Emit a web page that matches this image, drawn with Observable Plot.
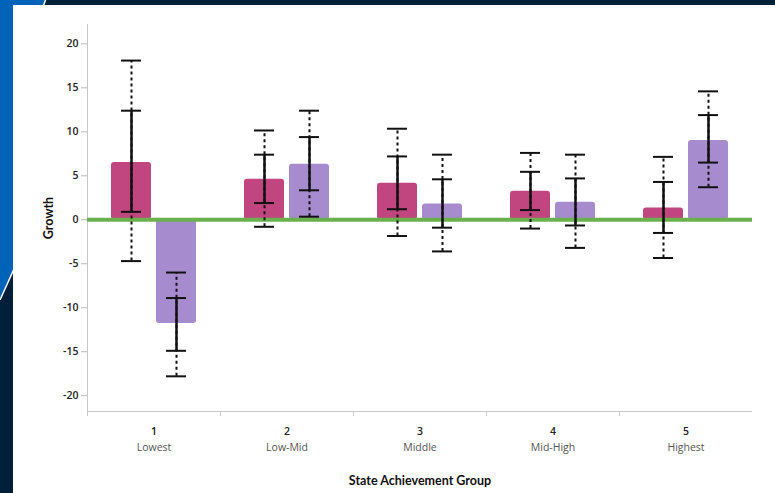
<!DOCTYPE html>
<html>
<head>
<meta charset="utf-8">
<script src="https://cdn.jsdelivr.net/npm/d3@7"></script>
<script src="https://cdn.jsdelivr.net/npm/@observablehq/plot@0.6"></script>
<style>
  html, body { margin: 0; padding: 0; }
  body { width: 775px; height: 493px; overflow: hidden; background: #00203a; }
  #wrap { position: relative; width: 775px; height: 493px; }
  #deco { position: absolute; left: 0; top: 0; }
  #panel { position: absolute; left: 13px; top: 5px; width: 762px; height: 488px; background: #ffffff; }
  #chart { position: absolute; left: 0; top: 0; }
</style>
</head>
<body>
<div id="wrap">
  <svg id="deco" width="775" height="493">
    <polygon points="0,0 45,0 13,120 13,271 0,299" fill="#0062b8"></polygon>
    <line x1="45.5" y1="0" x2="41" y2="12" stroke="#ffffff" stroke-width="1.5"></line>
    <line x1="13.5" y1="270" x2="0" y2="300" stroke="#ffffff" stroke-width="1.5"></line>
  </svg>
  <div id="panel"></div>
  <div id="chart"></div>
</div>
<script>
// ---- data ----
const groups = ["1", "2", "3", "4", "5"];
const groupNames = ["Lowest", "Low-Mid", "Middle", "Mid-High", "Highest"];
const series = ["Series 1", "Series 2"];
const seriesColors = ["#c1457f", "#a68bcf"];

const values1   = [6.5, 4.6, 4.15, 3.25, 1.35];
const innerLo1  = [0.9, 1.9, 1.2, 1.1, -1.5];
const innerHi1  = [12.4, 7.4, 7.2, 5.45, 4.3];
const outerLo1  = [-4.7, -0.8, -1.85, -1.0, -4.35];
const outerHi1  = [18.1, 10.15, 10.35, 7.6, 7.15];

const values2   = [-11.8, 6.3, 1.8, 2.0, 9.0];
const innerLo2  = [-14.9, 3.35, -0.9, -0.65, 6.5];
const innerHi2  = [-8.9, 9.4, 4.6, 4.7, 11.9];
const outerLo2  = [-17.8, 0.35, -3.6, -3.2, 3.7];
const outerHi2  = [-6.0, 12.4, 7.4, 7.4, 14.6];

const yTicks = [-20, -15, -10, -5, 0, 5, 10, 15, 20];
const yDomain = [-21.8, 22.2];
const xTitle = "State Achievement Group";
const yTitle = "Growth";

// ---- table ----
const rows = [];
groups.forEach((g, i) => {
  rows.push({group: g, series: series[0], value: values1[i], innerLo: innerLo1[i], innerHi: innerHi1[i], outerLo: outerLo1[i], outerHi: outerHi1[i]});
  rows.push({group: g, series: series[1], value: values2[i], innerLo: innerLo2[i], innerHi: innerHi2[i], outerLo: outerLo2[i], outerHi: outerHi2[i]});
});

const W = 775, H = 493, mL = 87, mR = 23, mT = 24, mB = 82;
const halfBand = (W - mL - mR) / groups.length / 2;
const font = "'Open Sans', Lato, sans-serif";

const capOpts = {fx: "group", x: "series", stroke: "#111", strokeWidth: 2, insetLeft: 10, insetRight: 10};

const chart = Plot.plot({
  width: W, height: H,
  marginLeft: mL, marginRight: mR, marginTop: mT, marginBottom: mB,
  style: {background: "transparent", fontFamily: font, fontSize: "10.5px", overflow: "visible"},
  fx: {domain: groups, padding: 0, label: null, axis: null},
  x: {domain: series, paddingInner: 0.111, paddingOuter: 0.533, axis: null},
  y: {domain: yDomain, axis: null},
  color: {domain: series, range: seriesColors},
  marks: [
    // axes lines
    Plot.frame({anchor: "left", stroke: "#c8c8c8", facetAnchor: "left"}),
    Plot.ruleY([yDomain[0]], {stroke: "#c8c8c8"}),
    Plot.axisY({ticks: yTicks, tickSize: 6, tickFormat: () => "", color: "#bbbbbb", label: null}),
    Plot.axisY({ticks: yTicks, tickSize: 0, tickPadding: 9, color: "#222", fontWeight: 600, label: null, tickFormat: (d) => String(d)}),
    Plot.axisY({ticks: [], label: yTitle, labelArrow: false, labelAnchor: "center", labelOffset: 43, fontWeight: "bold", fontSize: "12.5px", color: "#111", fontFamily: "Lato, sans-serif"}),
    Plot.axisFx({anchor: "bottom", tickSize: 5, tickFormat: () => "", dx: -halfBand, color: "#c8c8c8", label: null}),
    Plot.axisFx({anchor: "bottom", tickSize: 0, tickPadding: 16, color: "#222", fontWeight: 600, label: null}),
    Plot.axisFx({anchor: "bottom", tickSize: 0, tickPadding: 32, color: "#555", label: null, tickFormat: (d) => groupNames[groups.indexOf(d)]}),
    Plot.axisFx({anchor: "bottom", ticks: [], label: xTitle, labelArrow: false, labelAnchor: "center", labelOffset: 73, fontWeight: "bold", fontSize: "12.5px", color: "#111", fontFamily: "Lato, sans-serif"}),
    // bars
    Plot.barY(rows, {fx: "group", x: "series", y: "value", fill: "series", rx: 3}),
    // zero line
    Plot.ruleY([0], {stroke: "#6ab04c", strokeWidth: 4}),
    // error bars
    Plot.ruleX(rows, {fx: "group", x: "series", y1: "outerLo", y2: "outerHi", stroke: "#111", strokeWidth: 2, strokeDasharray: "3,3"}),
    Plot.ruleX(rows, {fx: "group", x: "series", y1: "innerLo", y2: "innerHi", stroke: "#111", strokeWidth: 2.5}),
    Plot.tickY(rows, {...capOpts, y: "outerLo"}),
    Plot.tickY(rows, {...capOpts, y: "outerHi"}),
    Plot.tickY(rows, {...capOpts, y: "innerLo"}),
    Plot.tickY(rows, {...capOpts, y: "innerHi"})
  ]
});
document.getElementById("chart").appendChild(chart);
</script>
</body>
</html>
